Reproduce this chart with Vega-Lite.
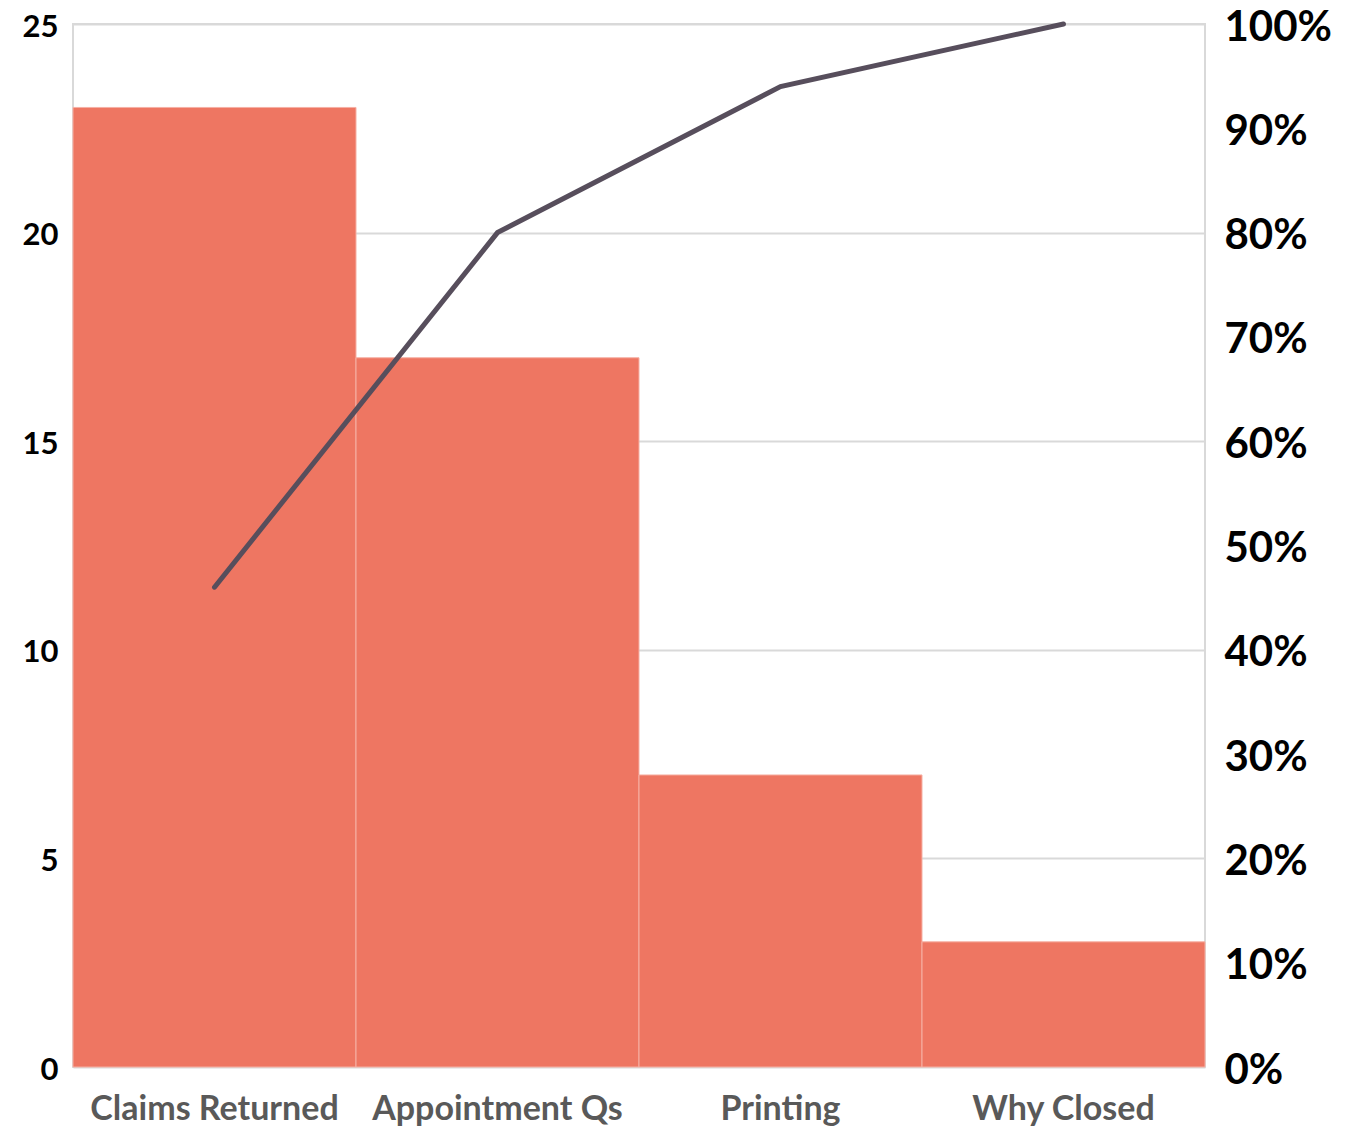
{
  "$schema": "https://vega.github.io/schema/vega-lite/v6.json",
  "width": 1132,
  "height": 1043,
  "autosize": {"type": "none"},
  "padding": {"left": 73, "top": 24, "right": 160, "bottom": 65},
  "background": "white",
  "config": {
    "font": "Lato",
    "view": {"stroke": "#d9d9d9", "strokeWidth": 2}
  },
  "data": {
    "values": [
      {"category": "Claims Returned", "count": 23, "cumpct": 0.46},
      {"category": "Appointment Qs", "count": 17, "cumpct": 0.80},
      {"category": "Printing", "count": 7, "cumpct": 0.94},
      {"category": "Why Closed", "count": 3, "cumpct": 1.0}
    ]
  },
  "encoding": {
    "x": {
      "field": "category",
      "type": "nominal",
      "sort": null,
      "scale": {"paddingInner": 0, "paddingOuter": 0},
      "axis": {
        "title": null,
        "labelAngle": 0,
        "labelFont": "Lato",
        "labelFontSize": 34,
        "labelFontWeight": "bold",
        "labelColor": "#595959",
        "labelPadding": 25,
        "labelLimit": 0,
        "ticks": false,
        "domain": false
      }
    }
  },
  "layer": [
    {
      "mark": {"type": "bar", "color": "#EE7662", "stroke": "#f6b0a4", "strokeWidth": 1},
      "encoding": {
        "y": {
          "field": "count",
          "type": "quantitative",
          "scale": {"domain": [0, 25], "nice": false},
          "axis": {
            "title": null,
            "values": [0, 5, 10, 15, 20, 25],
            "labelFontSize": 31,
            "labelFontWeight": "bold",
            "labelColor": "#000000",
            "labelPadding": 15,
            "labelBaseline": "middle",
            "labelOffset": 3,
            "ticks": false,
            "domain": false,
            "grid": true,
            "gridColor": "#d9d9d9",
            "gridWidth": 2
          }
        }
      }
    },
    {
      "mark": {"type": "line", "color": "#574e5c", "strokeWidth": 5, "strokeCap": "round"},
      "encoding": {
        "y": {
          "field": "cumpct",
          "type": "quantitative",
          "scale": {"domain": [0, 1], "nice": false},
          "axis": {
            "title": null,
            "orient": "right",
            "format": ".0%",
            "values": [0, 0.1, 0.2, 0.3, 0.4, 0.5, 0.6, 0.7, 0.8, 0.9, 1.0],
            "labelFontSize": 42,
            "labelFontWeight": "bold",
            "labelColor": "#000000",
            "labelPadding": 19,
            "labelOffset": 3,
            "ticks": false,
            "domain": false,
            "grid": false
          }
        }
      }
    }
  ],
  "resolve": {"scale": {"y": "independent"}}
}
